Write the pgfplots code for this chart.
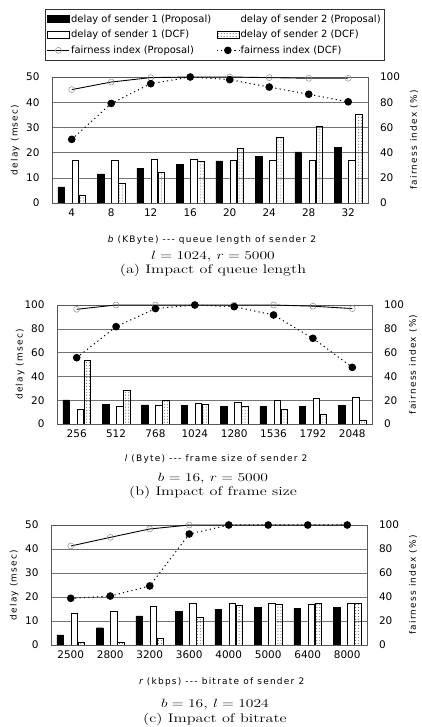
\documentclass[border=0pt]{standalone}
\usepackage{pgfplots}
\pgfplotsset{compat=1.18}
\usepackage{graphicx}
\usepackage{fontspec}
\usetikzlibrary{patterns}
\newfontfamily\gothic{DejaVu Sans}
\newfontfamily\gothicls[LetterSpace=14]{DejaVu Sans}

\newcommand\tickfont{\gothic\fontsize{10.5}{12}\selectfont}
\newcommand\labfont{\gothicls\fontsize{9}{11}\selectfont}
\newcommand\capfont{\fontsize{12.5}{14}\selectfont}

\pgfplotsset{
  common/.style={scale only axis, xmin=-0.5, xmax=7.5, ymin=0,
    major tick length=0pt,
    /pgf/number format/assume math mode=true,
    tick label style={font=\tickfont},
    label style={font=\labfont},
    axis line style={draw=black!65, line width=0.5pt}},
  delayaxis/.style={common, ybar, bar width=6.5bp, xtick={0,...,7},
    ymajorgrids, grid style={black!55, line width=0.45pt},
    ytick pos=left, xtick pos=bottom,
    yticklabel style={xshift=-9bp},
    xticklabel style={yshift=-2.5bp},
    ylabel={delay (msec)},
    ylabel style={at={(axis description cs:-0.117,0.5)}, anchor=center}},
  fairaxis/.style={common, axis x line=none, axis y line*=right,
    ymax=100, ytick={0,20,...,100},
    yticklabel style={xshift=8.5bp},
    ylabel={fairness index (\%)}},
  s1p/.style={draw=black, fill=black, bar shift=-10.5bp},
  s1d/.style={draw=black, fill=white, bar shift=3.5bp},
  s2d/.style={draw=black, pattern=dots, pattern color=black!75, bar shift=10.5bp},
  fp/.style={black, line width=0.9pt, mark=o, mark size=3bp,
    mark options={draw=black!45, fill=white, line width=0.5pt}},
  fd/.style={black, line width=1pt, dash pattern=on 1.2pt off 3.2pt,
    mark=*, mark size=3.3bp, mark options={solid, fill=black}},
  barleg/.style={legend image code/.code={\draw[##1] (0bp,-3.5bp) rectangle (22bp,3.5bp);}},
  noleg/.style={legend image code/.code={\path (0bp,-3.5bp) rectangle (22bp,3.5bp);}},
  lineleg/.style={legend image code/.code={\draw[mark repeat=2,mark phase=2,##1]
    plot coordinates {(0bp,0bp) (11bp,0bp) (22bp,0bp)};}},
}

\begin{document}
\begin{tikzpicture}
\useasboundingbox (0,0) rectangle (422bp,727bp);

% (a) queue length
\begin{axis}[delayaxis, at={(52bp,524bp)}, anchor=south west,
  width=316bp, height=126bp, ymax=50, ytick={0,10,...,50},
  xticklabels={4,8,12,16,20,24,28,32},
  xlabel={{\itshape b} (KByte) -{}-{}- queue length of sender 2},
  xlabel style={at={(axis description cs:0.506,-0.294)}, anchor=center}]
\addplot[s1p] coordinates {(0,6.4) (1,11.6) (2,13.8) (3,15.4) (4,16.7) (5,18.4) (6,20.3) (7,22)};
\addplot[s1d] coordinates {(0,16.8) (1,16.8) (2,17.4) (3,17.4) (4,17.1) (5,17.1) (6,17.1) (7,17.1)};
\addplot[s2d] coordinates {(0,3.2) (1,7.9) (2,12.4) (3,16.7) (4,21.7) (5,26.3) (6,30.5) (7,35.3)};
\end{axis}
\begin{axis}[fairaxis, at={(52bp,524bp)}, anchor=south west,
  width=316bp, height=126bp,
  ylabel style={at={(axis description cs:1.146,0.5)}, anchor=center},
  legend columns=2, legend cell align=left,
  legend style={at={(axis description cs:0.514,1.540)}, anchor=north,
    draw=black!80, line width=0.5pt, font=\gothic\fontsize{10}{12}\selectfont,
    inner xsep=2bp, inner ysep=3.5bp, row sep=2.5bp,
    nodes={inner xsep=1.2bp, inner ysep=2bp},
    /tikz/every even column/.append style={column sep=4bp}}]
\addlegendimage{barleg, draw=black, fill=black}
\addlegendentry{delay of sender 1 (Proposal)}
\addlegendimage{noleg, draw=none, fill=none}
\addlegendentry{delay of sender 2 (Proposal)}
\addlegendimage{barleg, draw=black, fill=white}
\addlegendentry{delay of sender 1 (DCF)}
\addlegendimage{barleg, draw=black, pattern=dots, pattern color=black!75}
\addlegendentry{delay of sender 2 (DCF)}
\addlegendimage{lineleg, fp}
\addlegendentry{fairness index (Proposal)}
\addlegendimage{lineleg, fd}
\addlegendentry{fairness index (DCF)}
\addplot[fp, forget plot] coordinates {(0,90) (1,96) (2,99.5) (3,100) (4,100) (5,99.5) (6,99) (7,99)};
\addplot[fd, forget plot] coordinates {(0,50.5) (1,79) (2,94.7) (3,100) (4,97.9) (5,92) (6,86.3) (7,80.3)};
\end{axis}
\node[font=\capfont] at (213bp,470bp) {\scalebox{1.3}[1]{$l = 1024$, $r = 5000$}};
\node[font=\capfont] at (213bp,457bp) {\scalebox{1.3}[1]{(a) Impact of queue length}};

% (b) frame size
\begin{axis}[delayaxis, at={(57bp,303bp)}, anchor=south west,
  width=315bp, height=119bp, ymax=100, ytick={0,20,...,100},
  xticklabels={256,512,768,1024,1280,1536,1792,2048},
  xlabel={{\itshape l} (Byte) -{}-{}- frame size of sender 2},
  xlabel style={at={(axis description cs:0.505,-0.294)}, anchor=center}]
\addplot[s1p] coordinates {(0,20.2) (1,16.8) (2,16) (3,15.4) (4,14.8) (5,14.8) (6,15.1) (7,15.4)};
\addplot[s1d] coordinates {(0,12.3) (1,14.6) (2,16) (3,17.4) (4,18.2) (5,20.2) (6,21.6) (7,22.4)};
\addplot[s2d] coordinates {(0,53.2) (1,28.6) (2,20.2) (3,16.8) (4,14.8) (5,12.3) (6,8.1) (7,3.6)};
\end{axis}
\begin{axis}[fairaxis, at={(57bp,303bp)}, anchor=south west,
  width=315bp, height=119bp,
  ylabel style={at={(axis description cs:1.130,0.5)}, anchor=center}]
\addplot[fp] coordinates {(0,96.4) (1,100) (2,100) (3,100) (4,100) (5,100) (6,99) (7,97)};
\addplot[fd] coordinates {(0,55.7) (1,81.8) (2,97) (3,100) (4,98.6) (5,91.6) (6,72) (7,47.6)};
\end{axis}
\node[font=\capfont] at (213bp,248bp) {\scalebox{1.3}[1]{$b = 16$, $r = 5000$}};
\node[font=\capfont] at (213bp,235bp) {\scalebox{1.3}[1]{(b) Impact of frame size}};

% (c) bitrate
\begin{axis}[delayaxis, at={(51bp,82bp)}, anchor=south west,
  width=316bp, height=120bp, ymax=50, ytick={0,10,...,50},
  xticklabels={2500,2800,3200,3600,4000,5000,6400,8000},
  xlabel={{\itshape r} (kbps) -{}-{}- bitrate of sender 2},
  xlabel style={at={(axis description cs:0.54,-0.308)}, anchor=center}]
\addplot[s1p] coordinates {(0,4.2) (1,7.2) (2,12.1) (3,13.9) (4,14.9) (5,15.6) (6,15.3) (7,15.6)};
\addplot[s1d] coordinates {(0,13.2) (1,14.2) (2,16) (3,17.4) (4,17.4) (5,17.4) (6,17.1) (7,17.4)};
\addplot[s2d] coordinates {(0,1) (1,1.1) (2,2.8) (3,11.4) (4,16.4) (5,16.9) (6,17.4) (7,17.4)};
\end{axis}
\begin{axis}[fairaxis, at={(51bp,82bp)}, anchor=south west,
  width=316bp, height=120bp,
  ylabel style={at={(axis description cs:1.146,0.5)}, anchor=center}]
\addplot[fp] coordinates {(0,82.5) (1,89.7) (2,96.7) (3,100) (4,100) (5,100) (6,100) (7,100)};
\addplot[fd] coordinates {(0,38.9) (1,40.8) (2,49.2) (3,92.5) (4,100) (5,100) (6,100) (7,100)};
\end{axis}
\node[font=\capfont] at (215bp,22bp) {\scalebox{1.3}[1]{$b = 16$, $l = 1024$}};
\node[font=\capfont] at (215bp,8bp) {\scalebox{1.3}[1]{(c) Impact of bitrate}};
\end{tikzpicture}
\end{document}
